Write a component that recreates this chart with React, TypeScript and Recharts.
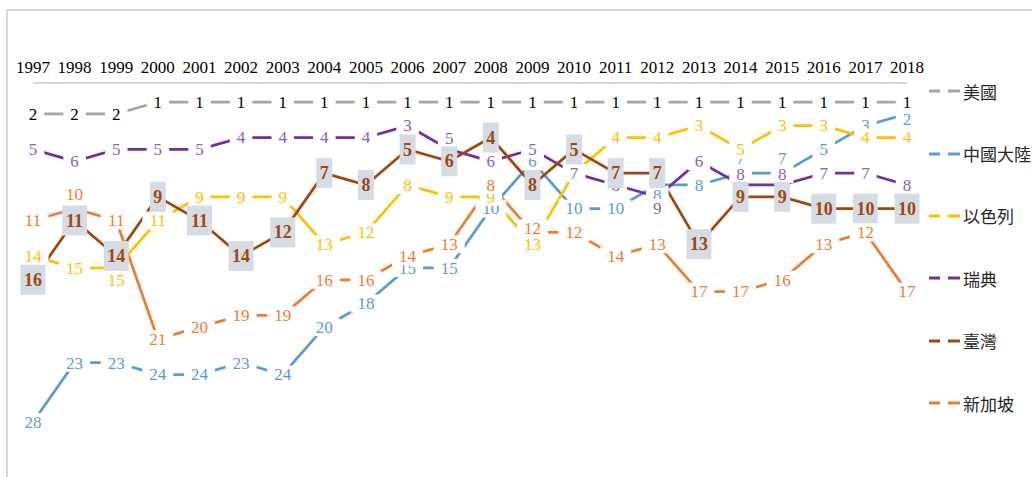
import React from "react";
import { LineChart, Line, XAxis, YAxis, Legend, LabelList } from "recharts";

const years = [
  "1997", "1998", "1999", "2000", "2001", "2002", "2003", "2004", "2005", "2006", "2007",
  "2008", "2009", "2010", "2011", "2012", "2013", "2014", "2015", "2016", "2017", "2018",
];
const usa = [2, 2, 2, 1, 1, 1, 1, 1, 1, 1, 1, 1, 1, 1, 1, 1, 1, 1, 1, 1, 1, 1];
const china = [28, 23, 23, 24, 24, 23, 24, 20, 18, 15, 15, 10, 6, 10, 10, 8, 8, 7, 7, 5, 3, 2];
const israel = [14, 15, 15, 11, 9, 9, 9, 13, 12, 8, 9, 9, 13, 7, 4, 4, 3, 5, 3, 3, 4, 4];
const sweden = [5, 6, 5, 5, 5, 4, 4, 4, 4, 3, 5, 6, 5, 7, 8, 9, 6, 8, 8, 7, 7, 8];
const taiwan = [16, 11, 14, 9, 11, 14, 12, 7, 8, 5, 6, 4, 8, 5, 7, 7, 13, 9, 9, 10, 10, 10];
const singapore = [11, 10, 11, 21, 20, 19, 19, 16, 16, 14, 13, 8, 12, 12, 14, 13, 17, 17, 16, 13, 12, 17];

const data = years.map((year, i) => ({
  year,
  usa: usa[i],
  china: china[i],
  israel: israel[i],
  sweden: sweden[i],
  taiwan: taiwan[i],
  singapore: singapore[i],
}));

const series = [
  { key: "usa", name: "美國", color: "#A5A5A5", text: "#000000" },
  { key: "china", name: "中國大陸", color: "#5B9BD5", text: "#5B9BD5" },
  { key: "israel", name: "以色列", color: "#FFC000", text: "#FFC000" },
  { key: "sweden", name: "瑞典", color: "#7030A0", text: "#8A63B3" },
  { key: "taiwan", name: "臺灣", color: "#9E480E", text: "#9E480E" },
  { key: "singapore", name: "新加坡", color: "#ED7D31", text: "#ED7D31" },
];

// labels that were moved off their point in the original
const nudge: Record<string, Record<number, number>> = {
  china: { 15: 10, 17: -15, 18: -15, 21: 5 },
  israel: { 2: 12 },
  sweden: { 10: -11, 15: 11, 17: -11, 18: -11 },
  singapore: { 1: -14, 12: -4 },
};

const serif = "'Liberation Serif', 'Times New Roman', serif";
const cjk = "'Noto Sans CJK TC', 'Noto Sans CJK SC', sans-serif";

function makeLabel(key: string, text: string) {
  return (props: any) => {
    const { x, y, value, index } = props;
    if (x == null || y == null) return null;
    const s = String(value);
    const cy = y + ((nudge[key] || {})[index] || 0);
    if (key === "taiwan") {
      const w = s.length * 9 + 7;
      return (
        <g>
          <rect x={x - w / 2} y={cy - 15} width={w} height={30} fill="#D6DCE4" />
          <text x={x} y={cy} dy="0.34em" textAnchor="middle" fontFamily={serif} fontSize={18} fontWeight="bold" fill={text}>
            {s}
          </text>
        </g>
      );
    }
    const w = s.length * 8.5 + 14;
    return (
      <g>
        <rect x={x - w / 2} y={cy - 9} width={w} height={18} fill="#ffffff" />
        <text x={x} y={cy} dy="0.34em" textAnchor="middle" fontFamily={serif} fontSize={17} fill={text}>
          {s}
        </text>
      </g>
    );
  };
}

function LegendBox() {
  return (
    <div>
      {series.map((s) => (
        <div key={s.key} style={{ height: 62.4, display: "flex", alignItems: "center" }}>
          <svg width={34} height={4} style={{ flex: "none" }}>
            <line x1={0} y1={2} x2={11} y2={2} stroke={s.color} strokeWidth={3} />
            <line x1={19} y1={2} x2={31} y2={2} stroke={s.color} strokeWidth={3} />
          </svg>
          <span style={{ fontFamily: cjk, fontSize: 17, color: "#262626", whiteSpace: "nowrap" }}>{s.name}</span>
        </div>
      ))}
    </div>
  );
}

export default function App() {
  return (
    <div style={{ position: "fixed", left: 0, top: 0, width: 1032, height: 477, overflow: "hidden", background: "#fff" }}>
      <div
        style={{
          position: "absolute",
          left: 6,
          top: 9,
          width: 1100,
          height: 600,
          borderLeft: "2px solid #D9D9D9",
          borderTop: "2px solid #D9D9D9",
        }}
      />
      <div style={{ position: "absolute", left: 0, top: 0 }}>
        <LineChart width={1032} height={477} data={data} margin={{ top: 43, right: 125, bottom: 55, left: 33 }}>
          <XAxis
            dataKey="year"
            orientation="top"
            height={40}
            interval={0}
            tickLine={false}
            tickSize={0}
            tickMargin={10}
            axisLine={{ stroke: "#D9D9D9", strokeWidth: 2 }}
            tick={{ fontFamily: serif, fontSize: 17, fill: "#000000" }}
          />
          <YAxis type="number" domain={[1, 28]} reversed hide padding={{ top: 19, bottom: 0 }} />
          <Legend
            layout="vertical"
            align="center"
            verticalAlign="middle"
            wrapperStyle={{ left: 929, top: 60, width: 103 }}
            content={() => <LegendBox />}
          />
          {series.map((s) => (
            <Line
              key={s.key}
              dataKey={s.key}
              name={s.name}
              stroke={s.color}
              strokeWidth={2.75}
              dot={false}
              activeDot={false}
              isAnimationActive={false}
            />
          ))}
          {series.map((s) => (
            <Line
              key={s.key + "-labels"}
              dataKey={s.key}
              stroke="none"
              dot={false}
              activeDot={false}
              legendType="none"
              isAnimationActive={false}
            >
              <LabelList dataKey={s.key} content={makeLabel(s.key, s.text)} />
            </Line>
          ))}
        </LineChart>
      </div>
    </div>
  );
}
